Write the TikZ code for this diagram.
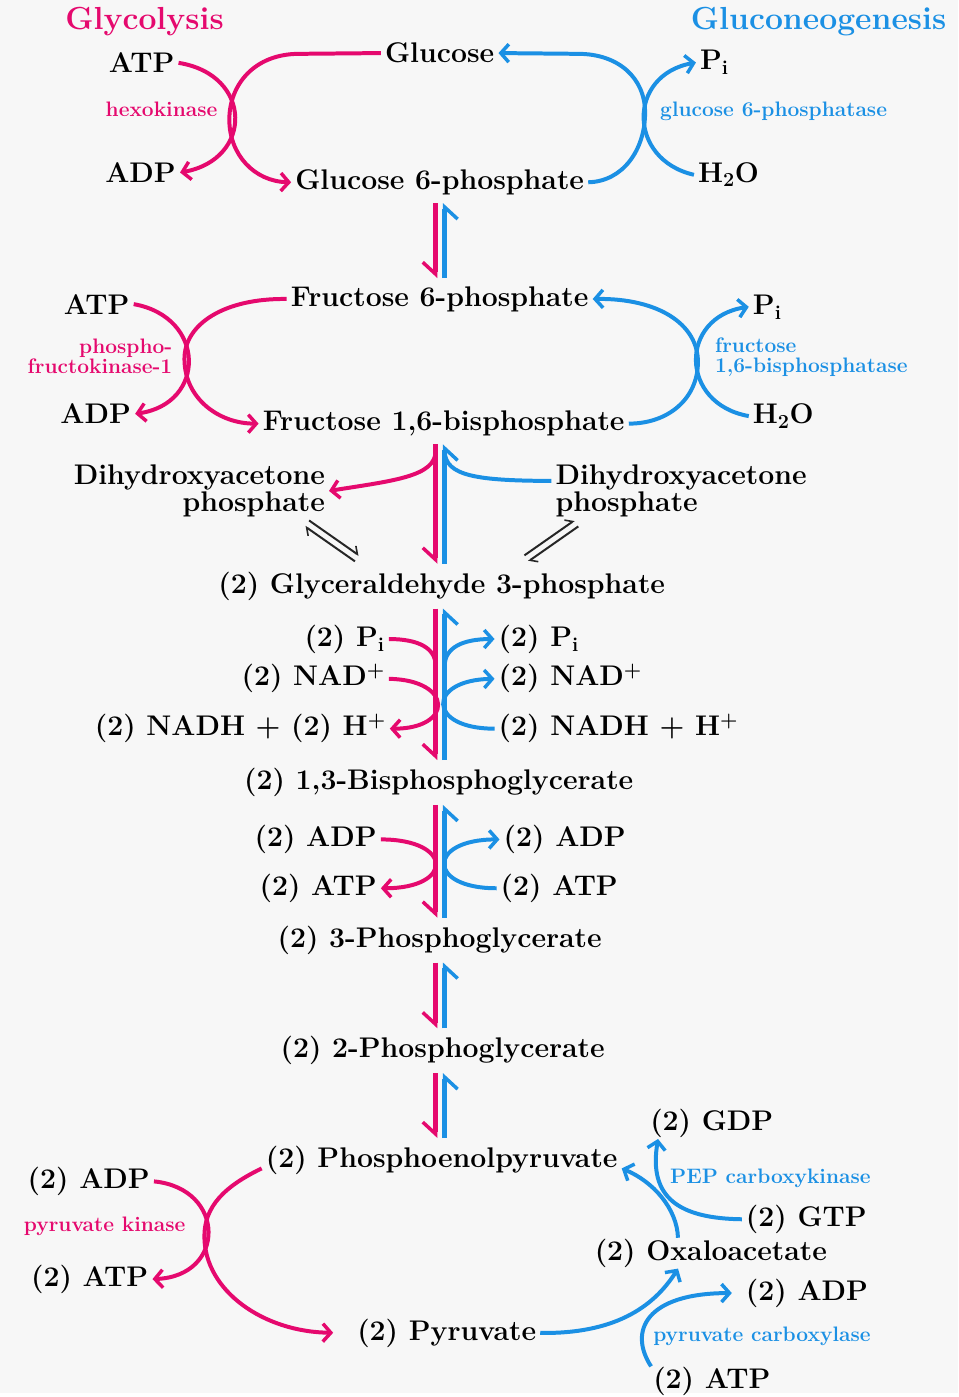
\documentclass[tikz,border=0pt]{standalone}
\usepackage{fontspec}
\usetikzlibrary{arrows.meta,positioning}
\definecolor{PathPink}{HTML}{E5096E}
\definecolor{PathBlue}{HTML}{1B90E4}
\definecolor{PathPaper}{HTML}{F7F7F7}
\tikzset{met/.style={font=\fontsize{28.5}{27}\selectfont\bfseries,anchor=base,inner xsep=4pt,inner ysep=1pt},
enz/.style={font=\fontsize{21}{20}\selectfont\bfseries,anchor=base,inner xsep=2pt,inner ysep=1pt},
glyenz/.style={enz,text=PathPink},
gngenz/.style={enz,text=PathBlue},
heading/.style={font=\fontsize{32}{34}\selectfont\bfseries,anchor=base,inner sep=0pt},
glyside/.style={draw=PathPink,line width=4pt},
gngside/.style={glyside,draw=PathBlue},
glyflow/.style={glyside,-{Straight Barb[length=8pt,width=18pt,line width=3.5pt]}},
gngflow/.style={glyflow,draw=PathBlue},
glytrunk/.style={draw=PathPink,line width=5.5pt,shorten <=7pt,shorten >=7pt,
-{Straight Barb[right,length=12pt,width=26pt,line width=3.5pt]}},
gngtrunk/.style={glytrunk,draw=PathBlue},
equil/.style={draw=black!85,line width=2pt,-{Straight Barb[left,length=6pt,width=12pt,line width=1.6pt]}}}
\begin{document}
\begin{tikzpicture}[x=1pt,y=-1pt]
\fill[PathPaper] (0,0) rectangle (961,1397);
\node[heading,text=PathPink] (glyhead) at (145,30) {Glycolysis};
\node[heading,text=PathBlue] (gnghead) at (821,30) {Gluconeogenesis};
\node[met] (glc) at (441,63) {Glucose};
\node[met] (g6p) at (441,190) {Glucose 6-phosphate};
\node[met] (hkatp) at (142,73) {ATP};
\node[met] (hkadp) at (141,183) {ADP};
\node[glyenz] (hk) at (162,117) {hexokinase};
\node[met,anchor=base west] (gpi) at (698,70) {P\textsubscript{i}};
\node[met,anchor=base west] (gwat) at (696,183) {H\textsubscript{2}O};
\node[gngenz,anchor=base west] (g6pase) at (660,117) {glucose 6-phosphatase};
\node[met] (f6p) at (441,307) {Fructose 6-phosphate};
\node[met] (f16bp) at (445,432) {Fructose 1,6-bisphosphate};
\node[met] (pfkatp) at (97,315) {ATP};
\node[met] (pfkadp) at (96,425) {ADP};
\node[glyenz,anchor=base east,align=right] (pfk) at (175,375) {phospho-\\fructokinase-1};
\node[met,anchor=base west] (fpi) at (751,315) {P\textsubscript{i}};
\node[met,anchor=base west] (fwat) at (751,425) {H\textsubscript{2}O};
\node[gngenz,anchor=base west,align=left] (fbpase) at (715,374) {fructose\\1,6-bisphosphatase};
\node[met,anchor=base east,align=right] (dhapl) at (330,513) {Dihydroxyacetone\\phosphate};
\node[met,anchor=base west,align=left] (dhapr) at (553,513) {Dihydroxyacetone\\phosphate};
\node[met] (g3p) at (443,595) {(2) Glyceraldehyde 3-phosphate};
\node[met,anchor=base east] (pil) at (390,648) {(2) P\textsubscript{i}};
\node[met,anchor=base east] (nadl) at (390,688) {(2) NAD\textsuperscript{+}};
\node[met,anchor=base east] (nadhl) at (391,738) {(2) NADH + (2) H\textsuperscript{+}};
\node[met,anchor=base west] (pir) at (496,648) {(2) P\textsubscript{i}};
\node[met,anchor=base west] (nadr) at (496,688) {(2) NAD\textsuperscript{+}};
\node[met,anchor=base west] (nadhr) at (496,738) {(2) NADH + H\textsuperscript{+}};
\node[met] (bpg) at (440,792) {(2) 1,3-Bisphosphoglycerate};
\node[met,anchor=base east] (adpl) at (382,849) {(2) ADP};
\node[met,anchor=base east] (atpl) at (382,898) {(2) ATP};
\node[met,anchor=base west] (adpr) at (501,849) {(2) ADP};
\node[met,anchor=base west] (atpr) at (498,898) {(2) ATP};
\node[met] (pg3) at (441,950) {(2) 3-Phosphoglycerate};
\node[met] (pg2) at (444,1061) {(2) 2-Phosphoglycerate};
\node[met] (pep) at (443,1171) {(2) Phosphoenolpyruvate};
\node[met] (pkadp) at (89,1192) {(2) ADP};
\node[glyenz] (pk) at (105,1235) {pyruvate kinase};
\node[met] (pkatp) at (90,1290) {(2) ATP};
\node[met] (pyr) at (448,1344) {(2) Pyruvate};
\node[met,anchor=base west] (gdp) at (648,1134) {(2) GDP};
\node[gngenz,anchor=base west] (pepck) at (670,1187) {PEP carboxykinase};
\node[met,anchor=base west] (gtp) at (744,1230) {(2) GTP};
\node[met] (oaa) at (713,1264) {(2) Oxaloacetate};
\node[met,anchor=base west] (pcadp) at (744,1304) {(2) ADP};
\node[gngenz,anchor=base west] (pc) at (653,1345) {pyruvate carboxylase};
\node[met,anchor=base west] (pcatp) at (651,1393) {(2) ATP};
\coordinate (pinkx) at (437,0);
\coordinate (bluex) at (446,0);
\coordinate (dhapout) at (437,452);
\coordinate (dhapin) at (446,452);
\coordinate (piin) at (437,668);
\coordinate (piout) at (446,668);
\coordinate (eqla) at (310,522);
\coordinate (eqlb) at (360,557);
\coordinate (eqlc) at (356,563);
\coordinate (eqld) at (306,528);
\coordinate (eqra) at (580,528);
\coordinate (eqrb) at (530,563);
\coordinate (eqrc) at (526,557);
\coordinate (eqrd) at (576,522);
\draw[glyflow] (glc.west) -- (300,54) .. controls (255,54) and (230,85) .. (230,120) .. controls (230,155) and (255,182) .. (g6p.west);
\draw[glyflow] (hkatp.east) .. controls (254,75) and (254,160) .. (hkadp.east);
\draw[gngflow] (g6p.east) .. controls (625,182) and (647,150) .. (647,113) .. controls (647,78) and (620,54) .. (580,54) -- (glc.east);
\draw[gngflow] (gwat.west) .. controls (629,160) and (629,75) .. (gpi.west);
\draw[glyflow] (f6p.west) .. controls (225,299) and (185,325) .. (185,360) .. controls (185,400) and (220,425) .. (f16bp.west);
\draw[glyflow] (pfkatp.east) .. controls (207,318) and (207,405) .. (pfkadp.east);
\draw[gngflow] (f16bp.east) .. controls (670,425) and (700,400) .. (700,363) .. controls (700,325) and (660,299) .. (f6p.east);
\draw[gngflow] (fwat.west) .. controls (681,405) and (681,318) .. (fpi.west);
\draw[glytrunk] (pinkx |- g6p.south) -- (pinkx |- f6p.north);
\draw[gngtrunk] (bluex |- f6p.north) -- (bluex |- g6p.south);
\draw[glytrunk] (pinkx |- f16bp.south) -- (pinkx |- g3p.north);
\draw[gngtrunk] (bluex |- g3p.north) -- (bluex |- f16bp.south);
\draw[glytrunk] (pinkx |- g3p.south) -- (pinkx |- bpg.north);
\draw[gngtrunk] (bluex |- bpg.north) -- (bluex |- g3p.south);
\draw[glytrunk] (pinkx |- bpg.south) -- (pinkx |- pg3.north);
\draw[gngtrunk] (bluex |- pg3.north) -- (bluex |- bpg.south);
\draw[glytrunk] (pinkx |- pg3.south) -- (pinkx |- pg2.north);
\draw[gngtrunk] (bluex |- pg2.north) -- (bluex |- pg3.south);
\draw[glytrunk] (pinkx |- pg2.south) -- (pinkx |- pep.north);
\draw[gngtrunk] (bluex |- pep.north) -- (bluex |- pg2.south);
\draw[glyflow] (dhapout) .. controls (437,478) and (395,482) .. (dhapl.east);
\draw[gngside] ([yshift=10pt]dhapr.west) .. controls (480,482) and (446,478) .. (dhapin);
\draw[equil] (eqla) -- (eqlb);
\draw[equil] (eqlc) -- (eqld);
\draw[equil] (eqra) -- (eqrb);
\draw[equil] (eqrc) -- (eqrd);
\draw[glyside] (pil.east) .. controls (420,641) and (437,650) .. (piin);
\draw[glyflow] (nadl.east) .. controls (455,682) and (455,731) .. (nadhl.east);
\draw[gngflow] (piout) .. controls (446,650) and (463,641) .. (pir.west);
\draw[gngflow] (nadhr.west) .. controls (428,731) and (428,682) .. (nadr.west);
\draw[glyflow] (adpl.east) .. controls (455,842) and (455,891) .. (atpl.east);
\draw[gngflow] (atpr.west) .. controls (428,891) and (428,842) .. (adpr.west);
\draw[glyflow,shorten >=20pt] ([yshift=-8pt]pep.west) .. controls (225,1190) and (205,1210) .. (205,1240) .. controls (205,1295) and (265,1336) .. (pyr.west);
\draw[glyflow] (pkadp.east) .. controls (227,1192) and (227,1280) .. (pkatp.east);
\draw[gngflow] ([xshift=-33pt]oaa.north) .. controls (679,1212) and (655,1185) .. ([yshift=-8pt]pep.east);
\draw[gngflow] (gtp.west) .. controls (682,1222) and (650,1202) .. ([xshift=12pt]gdp.south west);
\draw[gngflow] (pyr.east) .. controls (615,1338) and (655,1312) .. ([xshift=-33pt]oaa.south);
\draw[gngflow,shorten >=10pt] ([xshift=2pt]pcatp.north west) .. controls (630,1335) and (648,1297) .. (pcadp.west);
\end{tikzpicture}
\end{document}
